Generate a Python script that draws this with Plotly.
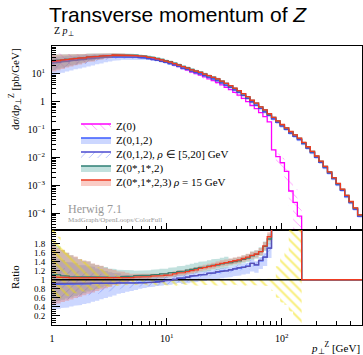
import numpy as np
import plotly.graph_objects as go

# Z transverse-momentum bin edges [GeV] (log-spaced binning, 1 - 500 GeV)
pt_edges = [1.000, 1.090, 1.188, 1.295, 1.412, 1.539, 1.678, 1.829, 1.994, 2.174,
            2.370, 2.583, 2.816, 3.070, 3.346, 3.648, 3.977, 4.335, 4.726, 5.152,
            5.616, 6.122, 6.674, 7.275, 7.931, 8.646, 9.425, 10.27, 11.20, 12.21,
            13.31, 14.51, 15.82, 17.24, 18.80, 20.49, 22.34, 24.35, 26.55, 28.94,
            31.55, 34.39, 37.49, 40.87, 44.55, 48.57, 52.94, 57.72, 62.92, 68.59,
            74.77, 81.51, 88.86, 96.87, 105.6, 115.1, 125.5, 136.8, 149.1, 162.6,
            177.2, 193.2, 210.6, 229.6, 250.3, 272.8, 297.4, 324.2, 353.4, 385.3,
            420.0, 457.8, 500.0]

# d(sigma)/d(pT) for Z(0,1,2) [pb/GeV]
xsec_z012 = [24.5, 25.7, 26.9, 28.2, 29.5, 30.9, 31.6, 33.1, 34.7, 35.5,
             37.2, 38.0, 39.8, 40.7, 41.7, 41.7, 41.7, 41.7, 40.7, 39.8,
             38.9, 37.2, 35.5, 33.1, 30.9, 28.2, 25.7, 23.4, 20.9, 18.6,
             16.2, 14.5, 12.6, 11.2, 10.0, 8.71, 7.59, 6.61, 5.75, 4.79,
             3.98, 3.31, 2.69, 2.19, 1.70, 1.32, 1.00, 0.759, 0.575, 0.437,
             0.324, 0.245, 0.182, 0.135, 0.102, 0.0759, 0.0575, 0.0437, 0.0316, 0.0219,
             0.0151, 0.0102, 0.00676, 0.00437, 0.00275, 0.00174, 0.00107, 0.000661, 0.000398, 0.000240,
             0.000141, 0.0000794]

# Other setups, relative to Z(0,1,2)
rel_z0 = [1.111, 1.111, 1.099, 1.111, 1.099, 1.099, 1.111, 1.099, 1.099, 1.087,
          1.099, 1.087, 1.087, 1.087, 1.087, 1.075, 1.087, 1.075, 1.075, 1.075,
          1.064, 1.064, 1.053, 1.053, 1.042, 1.031, 1.020, 1.010, 0.990, 0.971,
          0.962, 0.943, 0.926, 0.917, 0.901, 0.893, 0.877, 0.870, 0.855, 0.840,
          0.833, 0.820, 0.806, 0.794, 0.781, 0.769, 0.735, 0.752, 0.704, 0.667,
          0.588, 0.077, 0.059, 0.048, 0.031, 0.0083, 0.0043, 0.0018, 0.0, 0.0,
          0.0, 0.0, 0.0, 0.0, 0.0, 0.0, 0.0, 0.0, 0.0, 0.0,
          0.0, 0.0]
rel_z012_rho = [1.022, 1.022, 1.022, 1.022, 1.022, 1.011, 1.033, 1.011, 1.022, 1.011,
                1.011, 1.011, 1.011, 1.000, 1.011, 1.000, 1.011, 1.000, 0.989, 1.000,
                0.989, 0.989, 0.989, 0.989, 0.990, 0.990, 1.000, 0.995, 1.000, 1.005,
                1.000, 0.995, 1.000, 1.005, 1.000, 0.995, 1.000, 1.000, 1.005, 1.000,
                0.995, 1.000, 1.000, 1.005, 1.000, 0.995, 1.000, 1.000, 1.005, 1.000,
                1.000, 0.995, 1.000, 1.005, 1.000, 0.995, 1.000, 1.005, 1.000, 0.995,
                1.000, 1.005, 1.000, 0.995, 1.000, 1.000, 1.005, 1.000, 0.995, 1.000,
                1.005, 1.000]
rel_z0s1s2 = [1.244, 1.233, 1.198, 1.200, 1.176, 1.176, 1.178, 1.165, 1.176, 1.152,
              1.165, 1.152, 1.152, 1.141, 1.152, 1.140, 1.163, 1.151, 1.161, 1.172,
              1.160, 1.170, 1.158, 1.168, 1.167, 1.165, 1.153, 1.162, 1.149, 1.146,
              1.144, 1.142, 1.139, 1.147, 1.144, 1.143, 1.140, 1.148, 1.137, 1.134,
              1.142, 1.131, 1.129, 1.127, 1.133, 1.138, 1.125, 1.173, 1.141, 1.160,
              1.118, 1.120, 1.120, 1.120, 1.120, 1.120, 1.120, 1.120, 1.090, 1.090,
              1.090, 1.100, 1.080, 1.090, 1.100, 1.090, 1.080, 1.090, 1.100, 1.090,
              1.080, 1.090]
rel_z0s1s23 = [1.178, 1.167, 1.165, 1.167, 1.143, 1.154, 1.156, 1.143, 1.154, 1.130,
               1.143, 1.141, 1.130, 1.130, 1.141, 1.118, 1.141, 1.129, 1.129, 1.140,
               1.128, 1.138, 1.126, 1.137, 1.125, 1.124, 1.122, 1.121, 1.119, 1.117,
               1.115, 1.113, 1.111, 1.119, 1.126, 1.134, 1.132, 1.139, 1.145, 1.143,
               1.150, 1.148, 1.145, 1.143, 1.148, 1.154, 1.132, 1.180, 1.141, 1.167,
               1.147, 1.130, 1.130, 1.130, 1.130, 1.130, 1.130, 1.130, 1.100, 1.110,
               1.100, 1.110, 1.100, 1.100, 1.110, 1.100, 1.100, 1.110, 1.100, 1.100,
               1.110, 1.100]
rel_z012 = [1.0] * len(xsec_z012)

# Uncertainty envelopes (lower / upper factor w.r.t. each central value)
band_z0_lo = [0.55, 0.58, 0.61, 0.64, 0.67, 0.70, 0.72, 0.74, 0.76, 0.78,
              0.80, 0.82, 0.84, 0.85, 0.86, 0.87, 0.88, 0.88, 0.88, 0.88,
              0.88, 0.89, 0.88, 0.87, 0.88, 0.89, 0.88, 0.88, 0.87, 0.88,
              0.88, 0.89, 0.88, 0.88, 0.87, 0.88, 0.89, 0.88, 0.88, 0.87,
              0.88, 0.88, 0.89, 0.88, 0.87, 0.88, 0.88, 0.89, 0.88, 0.87,
              0.86, 0.75, 0.60, 0.50, 0.45, 0.30, 0.10, 0.02, 0.0, 0.0,
              0.0, 0.0, 0.0, 0.0, 0.0, 0.0, 0.0, 0.0, 0.0, 0.0,
              0.0, 0.0]
band_z0_hi = [2.20, 1.95, 1.78, 1.65, 1.55, 1.50, 1.45, 1.40, 1.36, 1.32,
              1.28, 1.24, 1.20, 1.16, 1.12, 1.09, 1.06, 1.04, 1.02, 1.01,
              1.01, 1.01, 1.02, 1.01, 1.01, 1.01, 1.02, 1.01, 1.01, 1.01,
              1.01, 1.01, 1.02, 1.01, 1.01, 1.01, 1.02, 1.01, 1.01, 1.01,
              1.01, 1.01, 1.02, 1.01, 1.01, 1.01, 1.02, 1.01, 1.01, 1.01,
              1.02, 1.05, 1.30, 1.50, 1.60, 2.50, 3.00, 3.00, 0.0, 0.0,
              0.0, 0.0, 0.0, 0.0, 0.0, 0.0, 0.0, 0.0, 0.0, 0.0,
              0.0, 0.0]
band_z012_lo = [0.37, 0.39, 0.41, 0.43, 0.45, 0.47, 0.49, 0.51, 0.53, 0.56,
                0.59, 0.62, 0.65, 0.68, 0.71, 0.74, 0.77, 0.79, 0.81, 0.83,
                0.85, 0.87, 0.88, 0.89, 0.90, 0.90, 0.90, 0.90, 0.90, 0.90,
                0.87, 0.87, 0.87, 0.87, 0.87, 0.87, 0.87, 0.87, 0.87, 0.87,
                0.87, 0.87, 0.87, 0.87, 0.87, 0.87, 0.87, 0.87, 0.87, 0.87,
                0.87, 0.87, 0.87, 0.87, 0.87, 0.87, 0.87, 0.87, 0.87, 0.87,
                0.87, 0.87, 0.87, 0.87, 0.87, 0.87, 0.87, 0.87, 0.87, 0.87,
                0.87, 0.87]
band_z012_hi = [1.65, 1.62, 1.58, 1.55, 1.52, 1.50, 1.47, 1.45, 1.43, 1.40,
                1.37, 1.33, 1.30, 1.27, 1.25, 1.23, 1.21, 1.19, 1.17, 1.15,
                1.13, 1.12, 1.11, 1.10, 1.09, 1.08, 1.08, 1.08, 1.08, 1.08,
                1.06, 1.06, 1.06, 1.06, 1.06, 1.06, 1.06, 1.06, 1.06, 1.06,
                1.06, 1.06, 1.06, 1.06, 1.06, 1.06, 1.06, 1.06, 1.06, 1.06,
                1.06, 1.06, 1.06, 1.06, 1.06, 1.06, 1.06, 1.06, 1.06, 1.06,
                1.06, 1.06, 1.06, 1.06, 1.06, 1.06, 1.06, 1.06, 1.06, 1.06,
                1.06, 1.06]
band_rho_lo = [0.55, 0.57, 0.59, 0.61, 0.63, 0.65, 0.67, 0.69, 0.71, 0.73,
               0.75, 0.77, 0.79, 0.81, 0.83, 0.85, 0.87, 0.88, 0.89, 0.91,
               0.91, 0.91, 0.91, 0.91, 0.91, 0.91, 0.91, 0.91, 0.91, 0.91,
               0.91, 0.91, 0.91, 0.91, 0.95, 0.95, 0.95, 0.95, 0.95, 0.95,
               0.95, 0.95, 0.95, 0.95, 0.95, 0.95, 0.95, 0.95, 0.95, 0.95,
               0.95, 0.95, 0.95, 0.95, 0.95, 0.95, 0.95, 0.95, 0.95, 0.95,
               0.95, 0.95, 0.95, 0.95, 0.95, 0.95, 0.95, 0.95, 0.95, 0.95,
               0.95, 0.95]
band_rho_hi = [1.40, 1.38, 1.36, 1.34, 1.32, 1.30, 1.28, 1.27, 1.26, 1.25,
               1.24, 1.22, 1.21, 1.20, 1.19, 1.18, 1.17, 1.16, 1.15, 1.13,
               1.13, 1.13, 1.13, 1.13, 1.13, 1.13, 1.13, 1.13, 1.13, 1.13,
               1.13, 1.13, 1.13, 1.13, 1.05, 1.05, 1.05, 1.05, 1.05, 1.05,
               1.05, 1.05, 1.05, 1.05, 1.05, 1.05, 1.05, 1.05, 1.05, 1.05,
               1.05, 1.05, 1.05, 1.05, 1.05, 1.05, 1.05, 1.05, 1.05, 1.05,
               1.05, 1.05, 1.05, 1.05, 1.05, 1.05, 1.05, 1.05, 1.05, 1.05,
               1.05, 1.05]
band_z0s1s2_lo = [0.45, 0.48, 0.51, 0.54, 0.57, 0.60, 0.63, 0.66, 0.69, 0.72,
                  0.75, 0.78, 0.81, 0.83, 0.85, 0.87, 0.89, 0.90, 0.91, 0.92,
                  0.92, 0.92, 0.92, 0.92, 0.92, 0.92, 0.92, 0.92, 0.92, 0.92,
                  0.92, 0.92, 0.92, 0.92, 0.92, 0.92, 0.92, 0.92, 0.92, 0.92,
                  0.92, 0.94, 0.94, 0.94, 0.94, 0.94, 0.94, 0.94, 0.94, 0.94,
                  0.94, 0.94, 0.94, 0.94, 0.94, 0.94, 0.94, 0.94, 0.94, 0.94,
                  0.94, 0.94, 0.94, 0.94, 0.94, 0.94, 0.94, 0.94, 0.94, 0.94,
                  0.94, 0.94]
band_z0s1s2_hi = [1.62, 1.57, 1.52, 1.48, 1.44, 1.40, 1.37, 1.34, 1.31, 1.28,
                  1.25, 1.23, 1.21, 1.19, 1.17, 1.15, 1.14, 1.13, 1.12, 1.10,
                  1.10, 1.10, 1.10, 1.10, 1.10, 1.10, 1.10, 1.10, 1.10, 1.10,
                  1.10, 1.10, 1.10, 1.10, 1.10, 1.10, 1.10, 1.10, 1.10, 1.10,
                  1.10, 1.06, 1.06, 1.06, 1.06, 1.06, 1.06, 1.06, 1.06, 1.06,
                  1.06, 1.06, 1.06, 1.06, 1.06, 1.06, 1.06, 1.06, 1.06, 1.06,
                  1.06, 1.06, 1.06, 1.06, 1.06, 1.06, 1.06, 1.06, 1.06, 1.06,
                  1.06, 1.06]
band_z0s1s23_lo = [0.42, 0.45, 0.48, 0.51, 0.54, 0.57, 0.60, 0.63, 0.66, 0.69,
                   0.72, 0.75, 0.78, 0.81, 0.84, 0.86, 0.88, 0.90, 0.92, 0.93,
                   0.94, 0.95, 0.95, 0.95, 0.95, 0.95, 0.95, 0.95, 0.95, 0.95,
                   0.95, 0.95, 0.95, 0.95, 0.95, 0.95, 0.95, 0.95, 0.95, 0.95,
                   0.95, 0.95, 0.95, 0.95, 0.95, 0.95, 0.95, 0.95, 0.95, 0.95,
                   0.95, 0.95, 0.95, 0.95, 0.95, 0.95, 0.95, 0.95, 0.95, 0.95,
                   0.95, 0.95, 0.95, 0.95, 0.95, 0.95, 0.95, 0.95, 0.95, 0.95,
                   0.95, 0.95]
band_z0s1s23_hi = [1.68, 1.62, 1.57, 1.52, 1.48, 1.44, 1.40, 1.37, 1.34, 1.31,
                   1.28, 1.25, 1.22, 1.19, 1.16, 1.14, 1.12, 1.10, 1.08, 1.07,
                   1.06, 1.05, 1.05, 1.05, 1.05, 1.05, 1.05, 1.05, 1.05, 1.05,
                   1.05, 1.05, 1.05, 1.05, 1.05, 1.05, 1.05, 1.05, 1.05, 1.05,
                   1.05, 1.05, 1.05, 1.05, 1.05, 1.05, 1.05, 1.05, 1.05, 1.05,
                   1.05, 1.05, 1.05, 1.05, 1.05, 1.05, 1.05, 1.05, 1.05, 1.05,
                   1.05, 1.05, 1.05, 1.05, 1.05, 1.05, 1.05, 1.05, 1.05, 1.05,
                   1.05, 1.05]

labels = ["Z(0)", "Z(0,1,2)", "Z(0,1,2), <i>ρ</i> ∈ [5,20] GeV",
          "Z(0*,1*,2)", "Z(0*,1*,2,3) <i>ρ</i> = 15 GeV"]

SERIF = "Liberation Serif"
SANS = "Liberation Sans"

edges = np.array(pt_edges)
base = np.array(xsec_z012)

styles = [
    dict(line="#ff00ff", ratio_line="black", fill=None,
         pattern=dict(shape="\\", fgcolor="#ff00ff", bgcolor="rgba(0,0,0,0)", size=6, solidity=0.12),
         ratio_pattern=dict(shape="\\", fgcolor="#f2e000", bgcolor="rgba(0,0,0,0)", size=7, solidity=0.3)),
    dict(line="#3b5bff", ratio_line="#3b5bff", fill="rgba(110,140,255,0.35)", pattern=None, ratio_pattern=None),
    dict(line="#4a4ad0", ratio_line="#5a50b0", fill=None,
         pattern=dict(shape="/", fgcolor="#3b5bff", bgcolor="rgba(0,0,0,0)", size=6, solidity=0.12),
         ratio_pattern=dict(shape="/", fgcolor="#3b5bff", bgcolor="rgba(0,0,0,0)", size=6, solidity=0.12)),
    dict(line="#2e7f74", ratio_line="#3a7a6c", fill="rgba(80,170,160,0.35)", pattern=None, ratio_pattern=None),
    dict(line="#ee3b22", ratio_line="#ee3b22", fill="rgba(240,100,80,0.33)", pattern=None, ratio_pattern=None),
]
rels = [rel_z0, rel_z012, rel_z012_rho, rel_z0s1s2, rel_z0s1s23]
bands = [(band_z0_lo, band_z0_hi), (band_z012_lo, band_z012_hi), (band_rho_lo, band_rho_hi),
         (band_z0s1s2_lo, band_z0s1s2_hi), (band_z0s1s23_lo, band_z0s1s23_hi)]


def steps(vals):
    xs, ys = [], []
    for i, v in enumerate(vals):
        xs += [edges[i], edges[i + 1]]
        ys += [v, v]
    return xs, ys


def band_polygon(lo, hi, mask):
    idx = [i for i in range(len(lo)) if mask[i]]
    xs, ys = [], []
    for i in idx:
        xs += [edges[i], edges[i + 1]]
        ys += [hi[i], hi[i]]
    for i in reversed(idx):
        xs += [edges[i + 1], edges[i]]
        ys += [lo[i], lo[i]]
    return xs, ys


FLOOR = 1e-12
fig = go.Figure()

central = [base * np.array(r) for r in rels]
z0 = central[0]
valid = z0 > 0

# ---- main panel: spectra with uncertainty envelopes ----
for n, (vals, (blo, bhi), st, lab) in enumerate(zip(central, bands, styles, labels)):
    lo = np.maximum(vals * np.array(blo), FLOOR)
    hi = np.maximum(vals * np.array(bhi), FLOOR)
    c = np.maximum(vals, FLOOR)
    if st["pattern"] is not None:
        fill_kw = dict(fillpattern=st["pattern"], fillcolor="rgba(0,0,0,0)")
    else:
        fill_kw = dict(fillcolor=st["fill"])
    x, y = steps(lo)
    fig.add_trace(go.Scatter(x=x, y=y, mode="lines", line=dict(width=0),
                             showlegend=False, hoverinfo="skip", xaxis="x", yaxis="y"))
    x, y = steps(c)
    fig.add_trace(go.Scatter(x=x, y=y, mode="lines", name=lab, fill="tonexty",
                             line=dict(color=st["line"], width=1.3),
                             legend="legend" if n == 0 else f"legend{n + 1}",
                             hoverinfo="skip", xaxis="x", yaxis="y", **fill_kw))
    x, y = steps(hi)
    fig.add_trace(go.Scatter(x=x, y=y, mode="lines", fill="tonexty", line=dict(width=0),
                             showlegend=False, hoverinfo="skip", xaxis="x", yaxis="y", **fill_kw))

# ---- ratio panel: everything divided by Z(0) ----
safe_z0 = np.where(valid, z0, 1.0)
# envelopes first (Z(0) hatch last so it sits on top), then the central lines
for n in [1, 2, 3, 4, 0]:
    vals, (blo, bhi), st = central[n], bands[n], styles[n]
    lo = vals * np.array(blo) / safe_z0
    hi = vals * np.array(bhi) / safe_z0
    x, y = band_polygon(lo, hi, valid)
    if st["ratio_pattern"] is not None:
        kw = dict(fillpattern=st["ratio_pattern"], fillcolor="rgba(0,0,0,0)")
    else:
        kw = dict(fillcolor=st["fill"])
    fig.add_trace(go.Scatter(x=x, y=y, mode="lines", fill="toself", line=dict(width=0),
                             showlegend=False, hoverinfo="skip", xaxis="x2", yaxis="y2", **kw))

for n, (vals, st) in enumerate(zip(central, styles)):
    if n == 0:
        r = np.where(valid, 1.0, np.nan)
    else:
        r = np.where(valid, vals / safe_z0, 1.0)
    x, y = steps(r)
    fig.add_trace(go.Scatter(x=x, y=y, mode="lines", line=dict(color=st["ratio_line"], width=1.3),
                             showlegend=False, hoverinfo="skip", xaxis="x2", yaxis="y2"))

# ---- axes ----
L, R, T, B = 52, 1, 46, 30
W, H = 363, 355
ph = H - T - B
split = 95 / ph

xmaj = [1, 10, 100]
xminor = [m * 10 ** e for e in range(0, 3) for m in range(2, 10) if m * 10 ** e <= 500]
ymaj = [10, 1, 0.1, 0.01, 0.001, 0.0001]
ytxt = ["10<sup>1</sup>", "1", "10<sup>−1</sup>", "10<sup>−2</sup>", "10<sup>−3</sup>", "10<sup>−4</sup>"]
yminor = [m * 10.0 ** e for e in range(-5, 2) for m in range(2, 10)]

tickfont = dict(family=SERIF, size=10, color="black")
common_x = dict(type="log", range=[0, np.log10(500)], showgrid=False, zeroline=False,
                showline=True, linecolor="black", linewidth=1, mirror=True,
                ticks="inside", tickvals=xmaj, ticklen=7, tickcolor="black", tickwidth=1,
                minor=dict(tickvals=xminor, ticks="inside", ticklen=4, tickcolor="black", showgrid=False),
                tickfont=tickfont)

fig.update_layout(
    width=W, height=H,
    margin=dict(l=L, r=R, t=T, b=B, pad=0),
    paper_bgcolor="white", plot_bgcolor="white",
    xaxis=dict(**common_x, domain=[0, 1], anchor="y", showticklabels=False),
    xaxis2=dict(**common_x, domain=[0, 1], anchor="y2", matches="x",
                ticktext=["1", "10<sup>1</sup>", "10<sup>2</sup>"], ticklabelstandoff=4),
    yaxis=dict(type="log", range=[-4.6, 2.0], domain=[split, 1], anchor="x",
               showgrid=False, zeroline=False, showline=True, linecolor="black", linewidth=1,
               mirror=True, ticks="inside", tickvals=ymaj, ticktext=ytxt, ticklen=8,
               tickcolor="black", tickfont=tickfont, ticklabelstandoff=4,
               minor=dict(tickvals=yminor, ticks="inside", ticklen=4, tickcolor="black", showgrid=False)),
    yaxis2=dict(range=[0, 2.1], domain=[0, split], anchor="x2",
                showgrid=False, zeroline=False, showline=True, linecolor="black", linewidth=1,
                mirror=True, ticks="inside",
                tickvals=[0.2, 0.4, 0.6, 0.8, 1.0, 1.2, 1.4, 1.6, 1.8],
                ticktext=["0.2", "0.4", "0.6", "0.8", "1", "1.2", "1.4", "1.6", "1.8"],
                ticklen=8, tickcolor="black", tickfont=dict(family=SERIF, size=9, color="black"),
                ticklabelstandoff=4,
                minor=dict(dtick=0.05, tick0=0, ticks="inside", ticklen=4, tickcolor="black", showgrid=False)),
    title=dict(text="Transverse momentum of <i>Z</i>", font=dict(family=SANS, size=21, color="black"),
               x=49 / W, xanchor="left", xref="container", y=1 - 15 / H, yanchor="middle", yref="container"),
    showlegend=True,
)


def py(pix):
    return (H - B - pix) / ph


def px(pix):
    return (pix - L) / (W - L - R)


legend_rows = [126, 140, 154, 168, 182]
for n, row in enumerate(legend_rows):
    key = "legend" if n == 0 else f"legend{n + 1}"
    fig.update_layout({key: dict(x=px(76), y=py(row), xanchor="left", yanchor="middle",
                                 bgcolor="rgba(0,0,0,0)", borderwidth=0, itemwidth=30,
                                 font=dict(family=SERIF, size=11, color="black"))})

annotations = [
    dict(text="Z <i>p</i><sub>⊥</sub>", x=px(52), y=py(32), xanchor="left", yanchor="middle",
         font=dict(family=SERIF, size=10, color="black")),
    dict(text="d<i>σ</i>/d<i>p</i><sub>⊥</sub><sup>Z</sup> [pb/GeV]", x=px(15), y=1.0, textangle=-90,
         xanchor="center", yanchor="top", font=dict(family=SERIF, size=11, color="black")),
    dict(text="Ratio", x=px(15), y=py(277), textangle=-90, xanchor="center", yanchor="middle",
         font=dict(family=SERIF, size=11, color="black")),
    dict(text="<i>p</i><sub>⊥</sub><sup>Z</sup> [GeV]", x=1.0, y=py(348), xanchor="right", yanchor="middle",
         font=dict(family=SERIF, size=11, color="black")),
    dict(text="Herwig 7.1", x=px(66), y=py(209), xanchor="left", yanchor="middle",
         font=dict(family=SERIF, size=12, color="#999999")),
    dict(text="MadGraph/OpenLoops/ColorFull", x=px(66), y=py(220), xanchor="left", yanchor="middle",
         font=dict(family=SERIF, size=7, color="#999999")),
]
for a in annotations:
    a.update(xref="paper", yref="paper", showarrow=False)
fig.update_layout(annotations=annotations)

fig.write_html("out.html")
